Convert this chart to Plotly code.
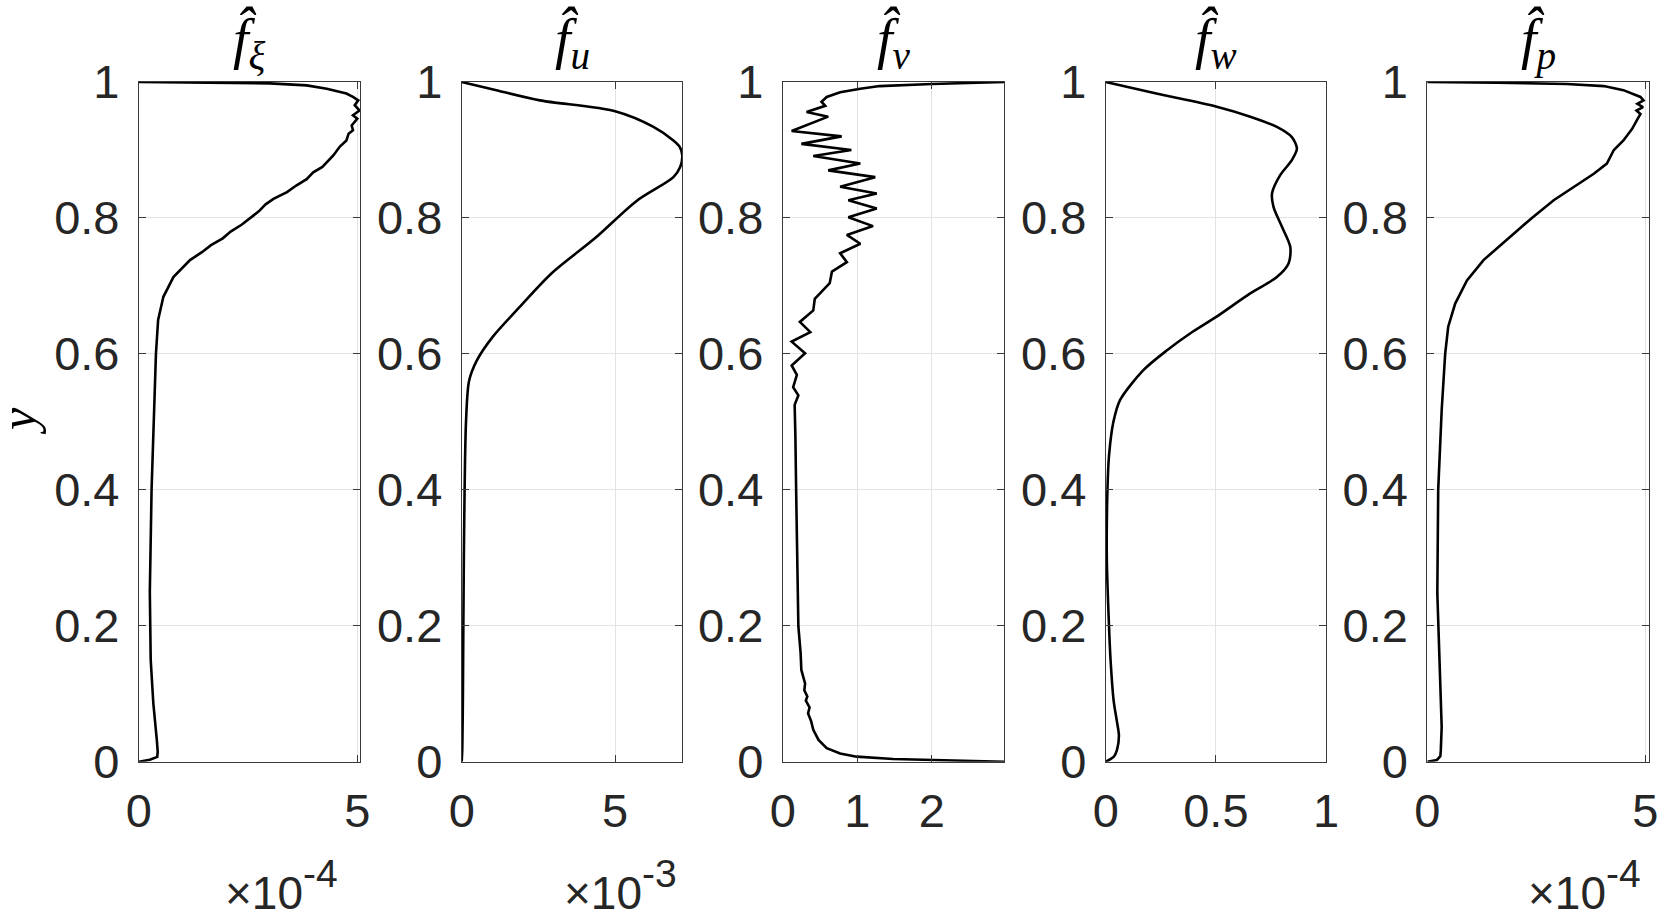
import plotly.graph_objects as go

W, H = 1661, 911

# ---------------- data (y from 0 to 1, x in displayed units) ----------------
y_xi = [0, 0.003, 0.007, 0.015, 0.032, 0.06, 0.086, 0.15, 0.25, 0.40, 0.517, 0.60, 0.65, 0.684,
        0.713, 0.738, 0.75, 0.76, 0.77, 0.78, 0.79, 0.80, 0.81, 0.82, 0.828, 0.838, 0.848, 0.857,
        0.867, 0.875, 0.885, 0.892, 0.905, 0.914, 0.924, 0.929, 0.936, 0.946, 0.951, 0.958, 0.966,
        0.973, 0.978, 0.983, 0.990, 0.995, 0.998, 0.9995, 1.0]
x_xi = [0, 0.25, 0.42, 0.43, 0.41, 0.37, 0.33, 0.27, 0.25, 0.29, 0.35, 0.39, 0.44, 0.56,
        0.79, 1.17, 1.45, 1.65, 1.92, 2.1, 2.35, 2.55, 2.75, 2.9, 3.08, 3.39, 3.61, 3.84,
        3.99, 4.2, 4.35, 4.45, 4.6, 4.75, 4.8, 4.9, 4.87, 5.0, 4.9, 5.05, 4.94,
        5.02, 4.9, 4.75, 4.30, 3.84, 3.0, 1.5, 0]

y_u = [0, 0.02, 0.1, 0.3, 0.5, 0.56, 0.59, 0.625, 0.669, 0.719, 0.77, 0.825, 0.86, 0.875,
       0.892, 0.905, 0.914, 0.934, 0.957, 0.973, 0.987, 1.0]
x_u = [0, 0.02, 0.04, 0.07, 0.14, 0.24, 0.49, 1.01, 1.89, 2.94, 4.34, 5.7, 6.9, 7.12,
       7.19, 7.1, 6.9, 6.25, 5.0, 2.55, 1.2, 0]

y_v = [0, 0.0025, 0.004, 0.0074, 0.012, 0.020, 0.032, 0.047, 0.060, 0.071, 0.080, 0.090, 0.096,
       0.105, 0.115, 0.135, 0.160, 0.199, 0.30, 0.40, 0.48, 0.525, 0.539, 0.551, 0.569, 0.583,
       0.601, 0.618, 0.632, 0.647, 0.664, 0.681, 0.704, 0.721, 0.735, 0.748, 0.762, 0.775,
       0.788, 0.801, 0.814, 0.826, 0.836, 0.846, 0.860, 0.870, 0.880, 0.891, 0.900, 0.909,
       0.920, 0.928, 0.949, 0.956, 0.965, 0.971, 0.978, 0.985, 0.990, 0.994, 0.997, 1.0]
x_v = [2.97, 2.02, 1.48, 0.99, 0.77, 0.59, 0.48, 0.41, 0.38, 0.34, 0.36, 0.31, 0.33,
       0.29, 0.30, 0.25, 0.24, 0.21, 0.19, 0.18, 0.17, 0.16, 0.21, 0.14, 0.19, 0.12,
       0.30, 0.12, 0.37, 0.23, 0.41, 0.43, 0.63, 0.66, 0.86, 0.77, 1.04, 0.86,
       1.21, 0.88, 1.26, 0.88, 1.26, 0.77, 1.24, 0.61, 1.04, 0.41, 0.92, 0.25,
       0.79, 0.12, 0.61, 0.32, 0.57, 0.52, 0.59, 0.77, 1.04, 1.3, 2.0, 2.97]

y_w = [0, 0.007, 0.017, 0.038, 0.059, 0.09, 0.15, 0.2, 0.3, 0.4, 0.45, 0.5, 0.532, 0.576,
       0.605, 0.630, 0.654, 0.689, 0.713, 0.733, 0.757, 0.787, 0.816, 0.836, 0.863, 0.885,
       0.902, 0.919, 0.934, 0.949, 0.964, 0.983, 1.0]
x_w = [0, 0.036, 0.051, 0.06, 0.051, 0.036, 0.022, 0.015, 0.005, 0.008, 0.015, 0.035, 0.065,
       0.171, 0.277, 0.383, 0.50, 0.656, 0.777, 0.83, 0.838, 0.80, 0.762, 0.755, 0.792, 0.845,
       0.868, 0.845, 0.777, 0.656, 0.50, 0.23, 0]

y_p = [0, 0.0025, 0.008, 0.017, 0.051, 0.09, 0.15, 0.248, 0.40, 0.517, 0.60, 0.64, 0.674,
       0.708, 0.738, 0.77, 0.80, 0.826, 0.846, 0.865, 0.880, 0.900, 0.914, 0.931, 0.944,
       0.953, 0.958, 0.963, 0.968, 0.973, 0.978, 0.988, 0.994, 0.997, 0.999, 1.0]
x_p = [0, 0.22, 0.30, 0.31, 0.33, 0.31, 0.27, 0.23, 0.25, 0.33, 0.41, 0.48, 0.64,
       0.91, 1.29, 1.85, 2.4, 2.9, 3.36, 3.82, 4.12, 4.28, 4.5, 4.70, 4.81,
       4.89, 4.80, 4.95, 4.82, 4.96, 4.89, 4.5, 4.05, 3.2, 1.6, 0]

titles = ["<i>f&#770;</i><sub><i>ξ</i></sub>", "<i>f&#770;</i><sub><i>u</i></sub>",
          "<i>f&#770;</i><sub><i>v</i></sub>", "<i>f&#770;</i><sub><i>w</i></sub>",
          "<i>f&#770;</i><sub><i>p</i></sub>"]
x_ranges = [5.07, 7.19, 2.97, 1.0, 5.08]
x_ticks = [[0, 5], [0, 5], [0, 1, 2], [0, 0.5, 1], [0, 5]]
x_ticktext = [["0", "5"], ["0", "5"], ["0", "1", "2"], ["0", "0.5", "1"], ["0", "5"]]
exponents = ["-4", "-3", None, None, "-4"]
y_ticks = [0, 0.2, 0.4, 0.6, 0.8, 1]
y_ticktext = ["0", "0.2", "0.4", "0.6", "0.8", "1"]
smooth = [False, True, False, True, False]

series = [(x_xi, y_xi), (x_u, y_u), (x_v, y_v), (x_w, y_w), (x_p, y_p)]

# ---------------- layout geometry (pixels) ----------------
panel_px = [(138.9, 360.4), (461.7, 682.3), (782.7, 1004.3), (1105.7, 1326.0), (1427.3, 1648.7)]
exp_right_px = [340, 679, None, None, 1643]
top_px, bot_px = 82.0, 761.7

TXT = "#262626"
FONT = "Liberation Sans"
SERIF = "Liberation Serif"
FS = 47


def py(v):
    return 1 - v / H


fig = go.Figure()
layout = dict(width=W, height=H, margin=dict(l=0, r=0, t=0, b=0, autoexpand=False),
              paper_bgcolor="white", plot_bgcolor="white", showlegend=False)
annotations = []

for i, ((xs, ys), (l, r)) in enumerate(zip(series, panel_px)):
    k = "" if i == 0 else str(i + 1)
    line = dict(color="black", width=2.6)
    if smooth[i]:
        line.update(shape="spline", smoothing=0.8)
    fig.add_trace(go.Scatter(x=xs, y=ys, mode="lines", xaxis="x" + k, yaxis="y" + k,
                             line=line, hoverinfo="skip"))
    common = dict(showgrid=True, gridcolor="#e3e3e3", gridwidth=1, showline=True,
                  linecolor="#3a3a3a", linewidth=1, mirror="ticks", ticks="inside",
                  ticklen=7, tickcolor="#3a3a3a", tickwidth=1, zeroline=False,
                  tickfont=dict(family=FONT, size=FS, color=TXT), fixedrange=True)
    layout["xaxis" + k] = dict(domain=[l / W, r / W], range=[0, x_ranges[i]],
                               tickmode="array", tickvals=x_ticks[i], ticktext=x_ticktext[i],
                               anchor="y" + k, ticklabelstandoff=8, **common)
    layout["yaxis" + k] = dict(domain=[py(bot_px), py(top_px)], range=[0, 1],
                               tickmode="array", tickvals=y_ticks, ticktext=y_ticktext,
                               anchor="x" + k, ticklabelstandoff=9, **common)
    cx = (l + r) / 2 / W
    annotations.append(dict(text=titles[i], x=cx, y=py(42), xref="paper", yref="paper",
                            xanchor="center", yanchor="middle", showarrow=False,
                            font=dict(family=SERIF, size=56, color="black")))
    if exponents[i]:
        er = exp_right_px[i]
        annotations.append(dict(text=exponents[i], x=er / W, y=py(873),
                                xref="paper", yref="paper", xanchor="right", yanchor="middle",
                                showarrow=False, font=dict(family=FONT, size=39, color=TXT)))
        annotations.append(dict(text="×10", x=(er - 35) / W, y=py(893),
                                xref="paper", yref="paper", xanchor="right", yanchor="middle",
                                showarrow=False, font=dict(family=FONT, size=46, color=TXT)))

annotations.append(dict(text="<i>y</i>", x=18 / W, y=py(421), xref="paper", yref="paper",
                        xanchor="center", yanchor="middle", showarrow=False, textangle=-90,
                        font=dict(family=SERIF, size=50, color="black")))
layout["annotations"] = annotations
fig.update_layout(**layout)
fig.write_html("out.html", config={"displayModeBar": False},
               post_script="document.body.style.margin='0px';"
                           "document.body.style.overflow='hidden';")
